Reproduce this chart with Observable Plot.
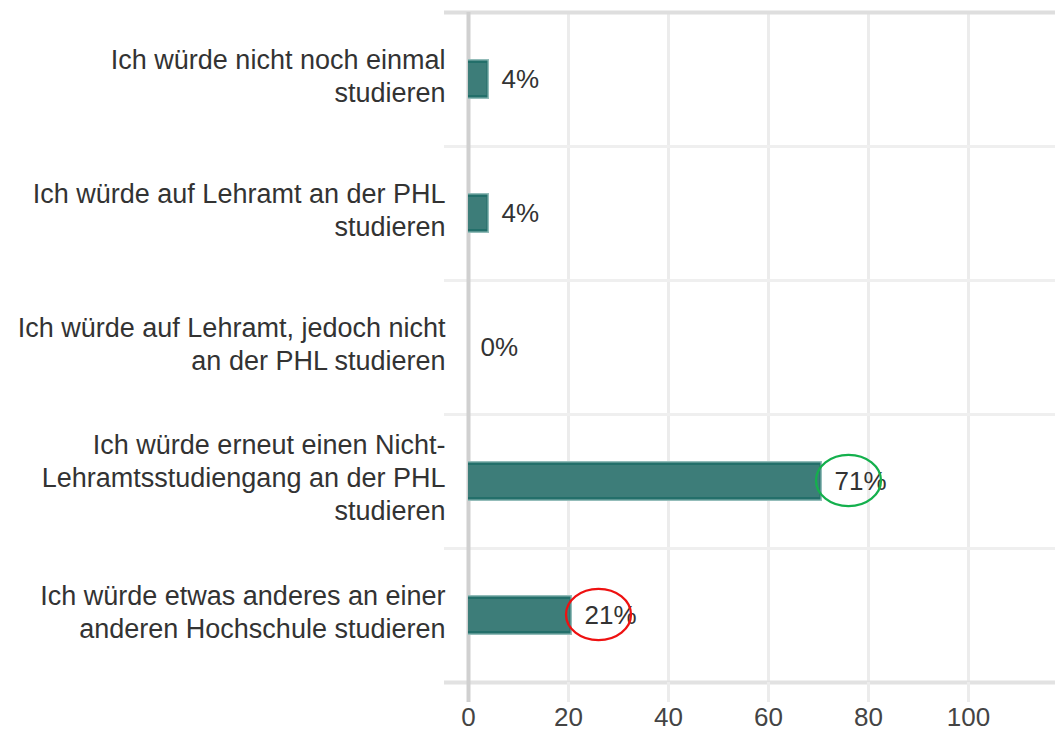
<!DOCTYPE html>
<html>
<head>
<meta charset="utf-8">
<script src="https://cdn.jsdelivr.net/npm/d3@7"></script>
<script src="https://cdn.jsdelivr.net/npm/@observablehq/plot@0.6"></script>
<style>
  html, body { margin: 0; padding: 0; background: #fff; }
  #chart svg { display: block; }
</style>
</head>
<body>
<div id="chart"></div>
<script>
// ---- data ----
const categories = [
  "Ich würde nicht noch einmal studieren",
  "Ich würde auf Lehramt an der PHL studieren",
  "Ich würde auf Lehramt, jedoch nicht an der PHL studieren",
  "Ich würde erneut einen Nicht-Lehramtsstudiengang an der PHL studieren",
  "Ich würde etwas anderes an einer anderen Hochschule studieren"
];
const categoryLabels = [
  "Ich würde nicht noch einmal\nstudieren",
  "Ich würde auf Lehramt an der PHL\nstudieren",
  "Ich würde auf Lehramt, jedoch nicht\nan der PHL studieren",
  "Ich würde erneut einen Nicht-\nLehramtsstudiengang an der PHL\nstudieren",
  "Ich würde etwas anderes an einer\nanderen Hochschule studieren"
];
const values = [4.2, 4.2, 0, 70.8, 20.8];
const valueLabels = ["4%", "4%", "0%", "71%", "21%"];
const xTicks = [0, 20, 40, 60, 80, 100];
const highlightIndex = [3, 4];
const highlightColors = ["#14b04d", "#ee1111"];

// ---- layout ----
const W = 1055, H = 731;
const mTop = 12, mBottom = 49, mLeft = 468, mRight = 0;
const xMax = 117.4;
const pxPerUnit = (W - mLeft - mRight) / xMax;
const band = (H - mTop - mBottom) / categories.length;
const font = "'Liberation Sans', Arial, Helvetica, sans-serif";

const rows = categories.map((c, i) => ({category: c, label: categoryLabels[i], value: values[i], text: valueLabels[i]}));
const barRows = rows.filter(d => d.value > 0);
const highlights = highlightIndex.map((i, k) => ({...rows[i], color: highlightColors[k]}));

const sepRows = categories.map((c, i) => ({category: c, top: i === 0}));
const extLeft = -24 / pxPerUnit;

// ellipse symbol (wider than tall)
const ellipse = {
  draw(ctx, size) {
    const r = Math.sqrt(size / Math.PI);
    const rx = r, ry = r * 0.79, k = 0.5523;
    ctx.moveTo(rx, 0);
    ctx.bezierCurveTo(rx, ry * k, rx * k, ry, 0, ry);
    ctx.bezierCurveTo(-rx * k, ry, -rx, ry * k, -rx, 0);
    ctx.bezierCurveTo(-rx, -ry * k, -rx * k, -ry, 0, -ry);
    ctx.bezierCurveTo(rx * k, -ry, rx, -ry * k, rx, 0);
    ctx.closePath();
  }
};

const barInset = (band - 40) / 2;

const chart = Plot.plot({
  width: W,
  height: H,
  marginTop: mTop,
  marginBottom: mBottom,
  marginLeft: mLeft,
  marginRight: mRight,
  style: {fontFamily: font, color: "#444", background: "#fff"},
  x: {domain: [0, xMax], axis: null},
  y: {domain: categories, padding: 0, axis: null},
  marks: [
    // vertical grid
    Plot.ruleX(xTicks.slice(1), {stroke: "#ececec", strokeWidth: 3}),
    // horizontal separators (top of each band)
    Plot.ruleY(sepRows.filter(d => !d.top), {y: "category", dy: -band / 2, x1: extLeft, x2: xMax, stroke: "#efefef", strokeWidth: 3}),
    Plot.ruleY(sepRows.filter(d => d.top), {y: "category", dy: -band / 2, x1: extLeft, x2: xMax, stroke: "#dedede", strokeWidth: 4}),
    // bottom line
    Plot.ruleY([categories[categories.length - 1]], {dy: band / 2, x1: extLeft, x2: xMax, stroke: "#e2e2e2", strokeWidth: 4}),
    // x axis ticks + labels
    Plot.axisX({ticks: xTicks, tickSize: 20, tickPadding: 5, stroke: "#ececec", strokeWidth: 3, fontSize: 26, fill: "#444", label: null}),
    Plot.axisX({ticks: [0], tickSize: 20, stroke: "#d0d0d0", strokeWidth: 4, tickFormat: () => "", label: null}),
    // zero line
    Plot.ruleX([0], {stroke: "#d0d0d0", strokeWidth: 4}),
    // bars (layered to mimic soft border)
    Plot.barX(barRows, {x: "value", y: "category", insetTop: barInset, insetBottom: barInset, fill: "#93bcb9"}),
    Plot.barX(barRows, {x: "value", y: "category", insetTop: barInset + 1.5, insetBottom: barInset + 1.5, insetRight: 1.5, fill: "#236f6a"}),
    Plot.barX(barRows, {x: "value", y: "category", insetTop: barInset + 4, insetBottom: barInset + 4, insetRight: 2.5, fill: "#3d7d79"}),
    // category labels
    Plot.text(rows, {x: 0, y: "category", text: "label", textAnchor: "end", dx: -23, dy: -5, lineHeight: 1.22, fontSize: 27, fill: "#333"}),
    // value labels
    Plot.text(rows, {x: "value", y: "category", text: "text", textAnchor: "start", dx: 12, fontSize: 26, fill: "#333"}),
    // highlight ellipses
    ...highlights.map(h => Plot.dot([h], {x: d => d.value + 26 / pxPerUnit, y: "category", dy: -1, r: 32.5, symbol: ellipse, fill: "none", stroke: h.color, strokeWidth: 2.3}))
  ]
});

document.getElementById("chart").appendChild(chart);
</script>
</body>
</html>
